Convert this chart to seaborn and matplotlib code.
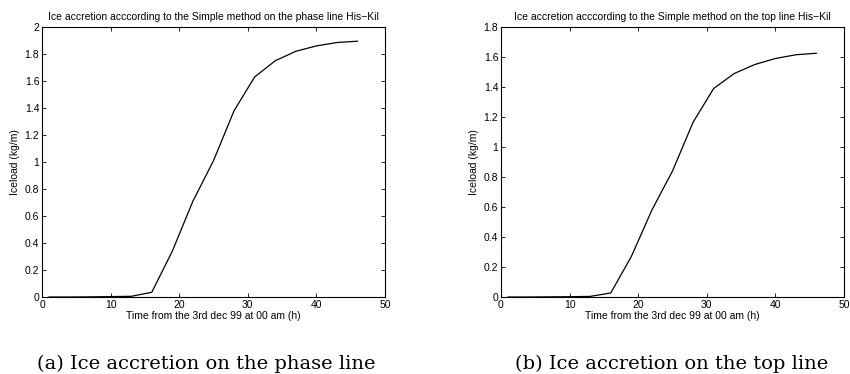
import numpy as np
import pandas as pd
import matplotlib.pyplot as plt
import seaborn as sns

# hours from 3rd dec 99, 00 am
hours = [1, 4, 7, 10, 13, 16, 19, 22, 25, 28, 31, 34, 37, 40, 43, 46]
phase_load = [0.0, 0.0, 0.001, 0.003, 0.005, 0.035, 0.34, 0.71, 1.01, 1.38,
              1.63, 1.75, 1.82, 1.86, 1.885, 1.895]
top_load = [0.0, 0.0, 0.001, 0.002, 0.004, 0.027, 0.27, 0.58, 0.84, 1.165,
            1.39, 1.49, 1.55, 1.59, 1.615, 1.625]

titles = ['Ice accretion acccording to the Simple method on the phase line His\u2212Kil',
          'Ice accretion acccording to the Simple method on the top line His\u2212Kil']
captions = ['(a) Ice accretion on the phase line', '(b) Ice accretion on the top line']

sns.set_style("white")
plt.rcParams['font.family'] = ['Liberation Sans', 'DejaVu Sans']
plt.rcParams['text.color'] = 'black'
plt.rcParams['axes.labelcolor'] = 'black'
plt.rcParams['xtick.color'] = 'black'
plt.rcParams['ytick.color'] = 'black'

fig = plt.figure(figsize=(8.5, 3.74), dpi=100)
W, H = 850, 374
boxes = [(42, 27, 343, 270), (501, 27, 343, 270)]
cap_x = [206, 672]
ylims = [(0, 2), (0, 1.8)]
yticks = [np.arange(0, 2.01, 0.2), np.arange(0, 1.81, 0.2)]
series = [phase_load, top_load]

for i in range(2):
    x0, y0, w, h = boxes[i]
    ax = fig.add_axes([x0 / W, 1 - (y0 + h) / H, w / W, h / H])
    df = pd.DataFrame({'t': hours, 'load': series[i]})
    sns.lineplot(data=df, x='t', y='load', ax=ax, color='black', linewidth=0.9)
    ax.set_xlim(0, 50)
    ax.set_ylim(*ylims[i])
    ax.set_xticks(np.arange(0, 51, 10))
    ax.set_yticks(yticks[i])
    ax.set_yticklabels([f'{v:g}' for v in np.round(yticks[i], 1)])
    ax.tick_params(direction='in', length=3, width=0.6, labelsize=7.5,
                   top=True, right=True, bottom=True, left=True, pad=2)
    for s in ax.spines.values():
        s.set_linewidth(0.8)
        s.set_color('black')
    ax.set_xlabel('Time from the 3rd dec 99 at 00 am (h)', fontsize=7.5, labelpad=1)
    ax.set_ylabel('Iceload (kg/m)', fontsize=7.5, labelpad=3)
    ax.set_title(titles[i], fontsize=7.5, pad=5)
    fig.text(cap_x[i] / W, 1 - 369 / H, captions[i], ha='center', va='baseline',
             fontsize=14, family=['DejaVu Serif'])

plt.savefig('out.png', dpi=100)
